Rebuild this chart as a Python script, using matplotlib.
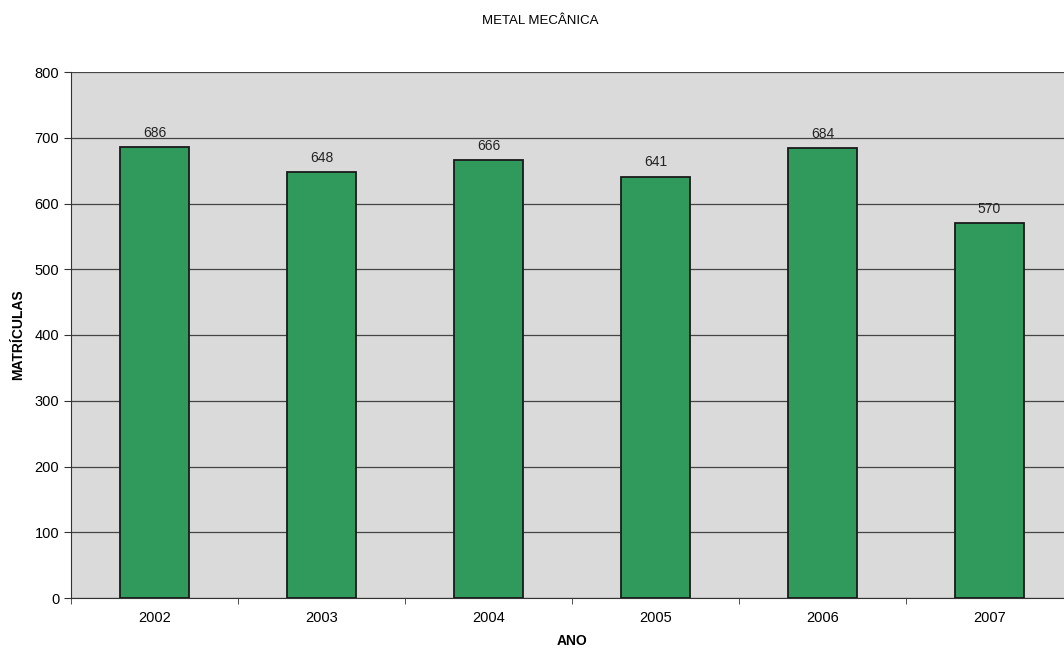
import numpy as np
import matplotlib
matplotlib.use('Agg')
import matplotlib.pyplot as plt

anos = ['2002', '2003', '2004', '2005', '2006', '2007']
matriculas = [686, 648, 666, 641, 684, 570]

plt.rcParams['font.family'] = ['Liberation Sans', 'DejaVu Sans']

fig = plt.figure(figsize=(10.64, 6.52), dpi=100)
# o eixo passa um pouco da borda direita da figura
ax = fig.add_axes([71 / 1064, 54 / 652, 1002 / 1064, 526 / 652])
ax.set_facecolor('#dadada')

x = np.arange(len(anos))
barras = ax.bar(x, matriculas, width=0.41, color='#2f9a5c',
                edgecolor='#1a1a1a', linewidth=1.3, zorder=3)
for b, v in zip(barras, matriculas):
    ax.text(b.get_x() + b.get_width() / 2, v + 11, str(v),
            ha='center', va='bottom', fontsize=10, color='#222222', zorder=4)

ax.set_xlim(-0.5, len(anos) - 0.5)
ax.set_ylim(0, 800)
ax.set_yticks(range(0, 801, 100))
ax.set_xticks(x)
ax.set_xticklabels(anos)
ax.set_xticks(np.arange(-0.5, len(anos), 1), minor=True)
ax.tick_params(axis='x', which='major', length=0, pad=9, labelsize=10.5)
ax.tick_params(axis='x', which='minor', length=4, direction='out', color='#333333')
ax.tick_params(axis='y', length=5, direction='out', labelsize=10.5, color='#333333')

ax.yaxis.grid(True, color='#444444', linewidth=0.9, zorder=1)
ax.set_axisbelow(True)
for lado in ['top', 'right']:
    ax.spines[lado].set_visible(False)
ax.spines['left'].set_color('#333333')
ax.spines['bottom'].set_color('#333333')

ax.set_xlabel('ANO', fontsize=10, fontweight='bold', labelpad=7)
ax.set_ylabel('MATRÍCULAS', fontsize=10, fontweight='bold', labelpad=7)
fig.text(540 / 1064, 1 - 21 / 652, 'METAL MECÂNICA', ha='center', va='center',
         fontsize=9.5)

fig.savefig('out.png', dpi=100)
